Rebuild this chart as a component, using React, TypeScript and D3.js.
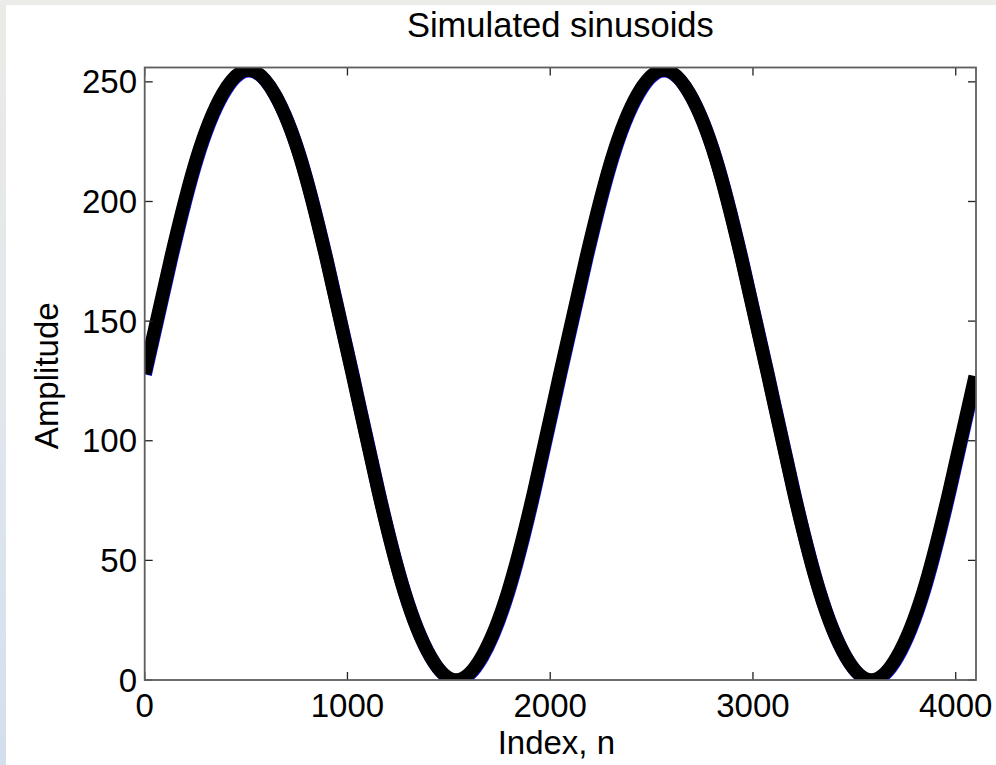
import React from "react";
import * as d3 from "d3";

// Sample indices and amplitudes
const indices = [0, 128, 256, 384, 512, 640, 768, 896, 1024, 1152, 1280, 1408, 1536, 1664, 1792, 1920, 2048, 2176, 2304, 2432, 2560, 2688, 2816, 2944, 3072, 3200, 3328, 3456, 3584, 3712, 3840, 3968, 4096];
const amplitudes = [128, 176, 218, 245, 255, 245, 218, 176, 128, 79, 37, 10, 0, 10, 37, 79, 128, 176, 218, 245, 255, 245, 218, 176, 128, 79, 37, 10, 0, 10, 37, 79, 127];
const xTicks = [0, 1000, 2000, 3000, 4000];
const yTicks = [0, 50, 100, 150, 200, 250];
const xDomain = [0, 4100];
const yDomain = [0, 256];
const titleText = "Simulated sinusoids";
const xLabelText = "Index, n";
const yLabelText = "Amplitude";

const W = 996;
const H = 765;
const left = 144.7;
const right = 976;
const top = 67.5;
const bottom = 680;
const FONT = "'Liberation Sans', Arial, Helvetica, sans-serif";
const FS = 33;

export default function App() {
  const x = d3.scaleLinear().domain(xDomain).range([left, right]);
  const y = d3.scaleLinear().domain(yDomain).range([bottom, top]);
  const pts = indices.map((n, i) => [n, amplitudes[i]] as [number, number]);
  const line = d3
    .line<[number, number]>()
    .x((d) => x(d[0]))
    .y((d) => y(d[1]))
    .curve(d3.curveNatural);
  const path = line(pts) || "";
  const tickLen = 8;
  return (
    <svg
      width={W}
      height={H}
      style={{ position: "absolute", left: 0, top: 0, display: "block" }}
      fontFamily={FONT}
    >
      <defs>
        <linearGradient id="edge" x1="0" y1="0" x2="0" y2="1">
          <stop offset="0" stopColor="#ebebe6" />
          <stop offset="0.5" stopColor="#e2e7ec" />
          <stop offset="1" stopColor="#d3deee" />
        </linearGradient>
        <clipPath id="plotclip">
          <rect x={left} y={top} width={right - left} height={bottom - top} />
        </clipPath>
      </defs>
      <rect x={0} y={0} width={W} height={H} fill="url(#edge)" />
      <rect x={0} y={0} width={W} height={5} fill="#ecece8" />
      <rect x={6} y={5} width={W - 6} height={H - 5} fill="#ffffff" />

      <g clipPath="url(#plotclip)">
        <path
          d={path}
          fill="none"
          stroke="#1a1aff"
          strokeWidth={13.5}
          transform="translate(0.5,0.8)"
          strokeLinejoin="round"
        />
        <path d={path} fill="none" stroke="#000" strokeWidth={13.5} strokeLinejoin="round" />
      </g>

      {/* ticks */}
      <g stroke="#222" strokeWidth={1.3}>
        {xTicks.map((t) => (
          <g key={"xt" + t}>
            <line x1={x(t)} x2={x(t)} y1={bottom} y2={bottom - tickLen} />
            <line x1={x(t)} x2={x(t)} y1={top} y2={top + tickLen} />
          </g>
        ))}
        {yTicks.map((t) => (
          <g key={"yt" + t}>
            <line x1={left} x2={left + tickLen} y1={y(t)} y2={y(t)} />
            <line x1={right} x2={right - tickLen} y1={y(t)} y2={y(t)} />
          </g>
        ))}
      </g>
      <rect
        x={left}
        y={top}
        width={right - left}
        height={bottom - top}
        fill="none"
        stroke="#5e5e5e"
        strokeWidth={1.8}
      />

      {/* tick labels */}
      <g fontSize={FS} fill="#000">
        {xTicks.map((t) => (
          <text key={"xl" + t} x={x(t)} y={717} textAnchor="middle">
            {t}
          </text>
        ))}
        {yTicks.map((t) => (
          <text key={"yl" + t} x={137} y={y(t)} textAnchor="end" dominantBaseline="central">
            {t}
          </text>
        ))}
      </g>

      <text x={(left + right) / 2} y={37} textAnchor="middle" fontSize={34.5} fill="#000">
        {titleText}
      </text>
      <text x={(left + right) / 2 - 4} y={754} textAnchor="middle" fontSize={FS} fill="#000">
        {xLabelText}
      </text>
      <text
        transform={`translate(58, ${(top + bottom) / 2 + 2}) rotate(-90)`}
        textAnchor="middle"
        fontSize={FS}
        fill="#000"
      >
        {yLabelText}
      </text>
    </svg>
  );
}
